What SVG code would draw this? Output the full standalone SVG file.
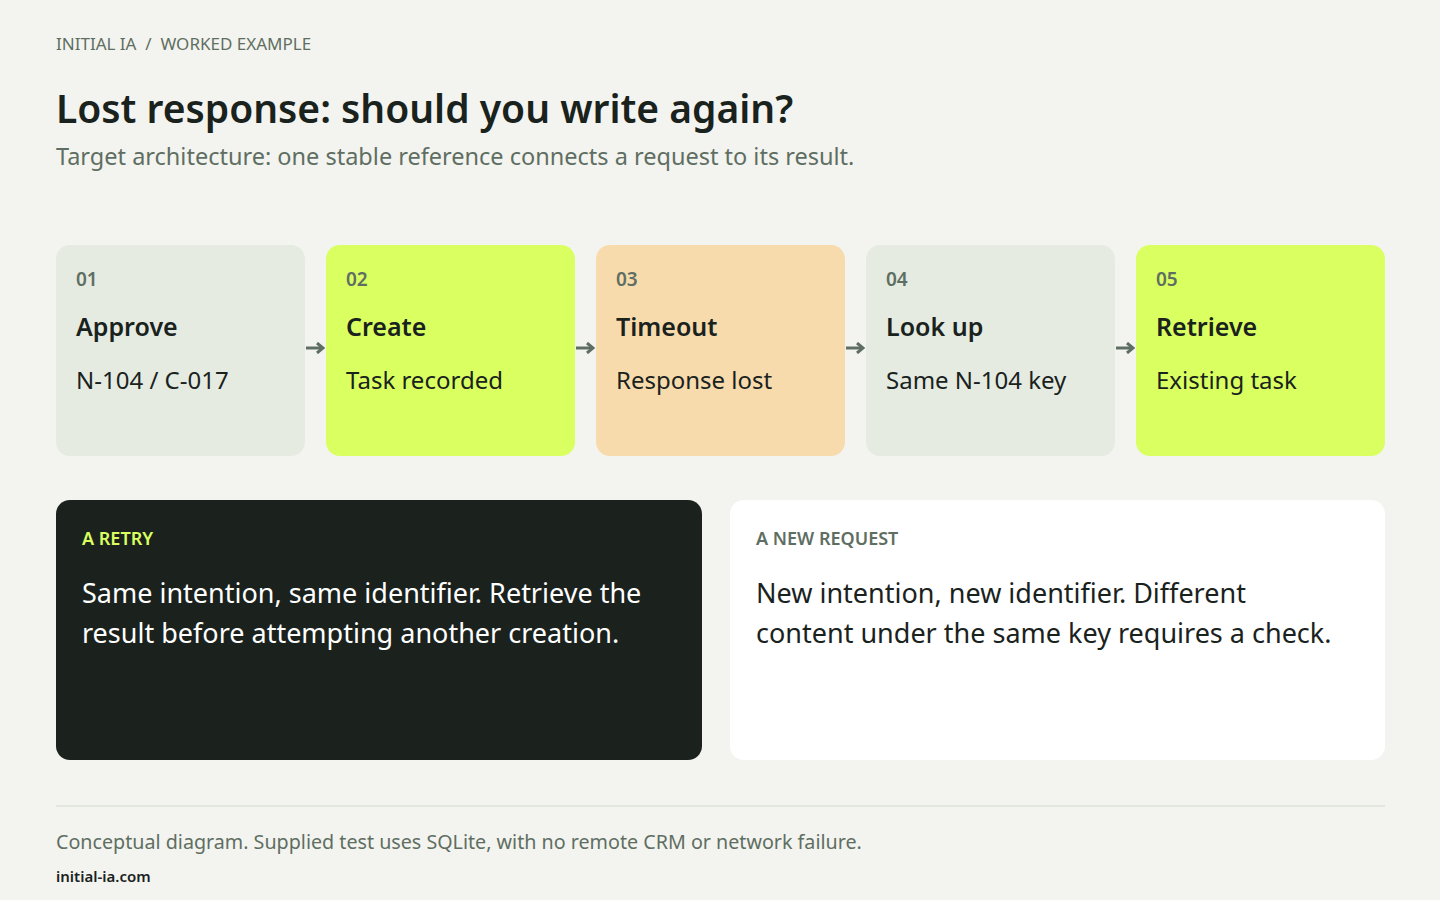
<svg xmlns="http://www.w3.org/2000/svg" width="1440" height="900" viewBox="0 0 1440 900">
<defs>
<style>
text{font-family:"Noto Sans","Open Sans","Liberation Sans",sans-serif}
.muted{fill:#5f6e62}
.dark{fill:#1a221d}
.num{font-size:19px;font-weight:600;fill:#5f6e62}
.ttl{font-size:25px;font-weight:600;fill:#1a221d}
.sub{font-size:24px;fill:#1a221d}
.conn{stroke:#5f6e62;stroke-width:3;fill:none}
</style>
<marker id="arr" viewBox="0 0 10 12" refX="8" refY="6" markerWidth="10" markerHeight="12" markerUnits="userSpaceOnUse" orient="auto">
<path d="M2 1 L8 6 L2 11" fill="none" stroke="#5f6e62" stroke-width="3"/>
</marker>
</defs>
<rect width="1440" height="900" fill="#f3f4ef"/>
<g id="header">
<text x="56" y="50" font-size="17" class="muted" xml:space="preserve">INITIAL IA  /  WORKED EXAMPLE</text>
<text x="56" y="123" font-size="39" font-weight="600" class="dark">Lost response: should you write again?</text>
<text x="56" y="165" font-size="23.5" class="muted">Target architecture: one stable reference connects a request to its result.</text>
</g>
<g id="step-01">
<rect x="56" y="245" width="249" height="211" rx="14" fill="#e5ebe1"/>
<text x="76" y="286" class="num">01</text>
<text x="76" y="336" class="ttl">Approve</text>
<text x="76" y="389" class="sub">N-104 / C-017</text>
</g>
<g id="step-02">
<rect x="326" y="245" width="249" height="211" rx="14" fill="#d9ff60"/>
<text x="346" y="286" class="num">02</text>
<text x="346" y="336" class="ttl">Create</text>
<text x="346" y="389" class="sub">Task recorded</text>
</g>
<g id="step-03">
<rect x="596" y="245" width="249" height="211" rx="14" fill="#f7dbad"/>
<text x="616" y="286" class="num">03</text>
<text x="616" y="336" class="ttl">Timeout</text>
<text x="616" y="389" class="sub">Response lost</text>
</g>
<g id="step-04">
<rect x="866" y="245" width="249" height="211" rx="14" fill="#e5ebe1"/>
<text x="886" y="286" class="num">04</text>
<text x="886" y="336" class="ttl">Look up</text>
<text x="886" y="389" class="sub">Same N-104 key</text>
</g>
<g id="step-05">
<rect x="1136" y="245" width="249" height="211" rx="14" fill="#d9ff60"/>
<text x="1156" y="286" class="num">05</text>
<text x="1156" y="336" class="ttl">Retrieve</text>
<text x="1156" y="389" class="sub">Existing task</text>
</g>
<g id="connectors">
<line x1="306" y1="348" x2="323" y2="348" class="conn" marker-end="url(#arr)"/>
<line x1="576" y1="348" x2="593" y2="348" class="conn" marker-end="url(#arr)"/>
<line x1="846" y1="348" x2="863" y2="348" class="conn" marker-end="url(#arr)"/>
<line x1="1116" y1="348" x2="1133" y2="348" class="conn" marker-end="url(#arr)"/>
</g>
<g id="retry">
<rect x="56" y="500" width="646" height="260" rx="14" fill="#1b221e"/>
<text x="82" y="545" font-size="18" font-weight="600" fill="#d9ff60">A RETRY</text>
<text x="82" y="603" font-size="27" fill="#ffffff">Same intention, same identifier. Retrieve the</text>
<text x="82" y="643" font-size="27" fill="#ffffff">result before attempting another creation.</text>
</g>
<g id="new-request">
<rect x="730" y="500" width="655" height="260" rx="14" fill="#ffffff"/>
<text x="756" y="545" font-size="18" font-weight="600" class="muted">A NEW REQUEST</text>
<text x="756" y="603" font-size="27" class="dark">New intention, new identifier. Different</text>
<text x="756" y="643" font-size="27" class="dark">content under the same key requires a check.</text>
</g>
<g id="footer">
<line x1="56" y1="806" x2="1385" y2="806" stroke="#e3e8df" stroke-width="2"/>
<text x="56" y="849" font-size="19.7" class="muted">Conceptual diagram. Supplied test uses SQLite, with no remote CRM or network failure.</text>
<text x="56" y="882" font-size="15" font-weight="600" class="dark">initial-ia.com</text>
</g>
</svg>
